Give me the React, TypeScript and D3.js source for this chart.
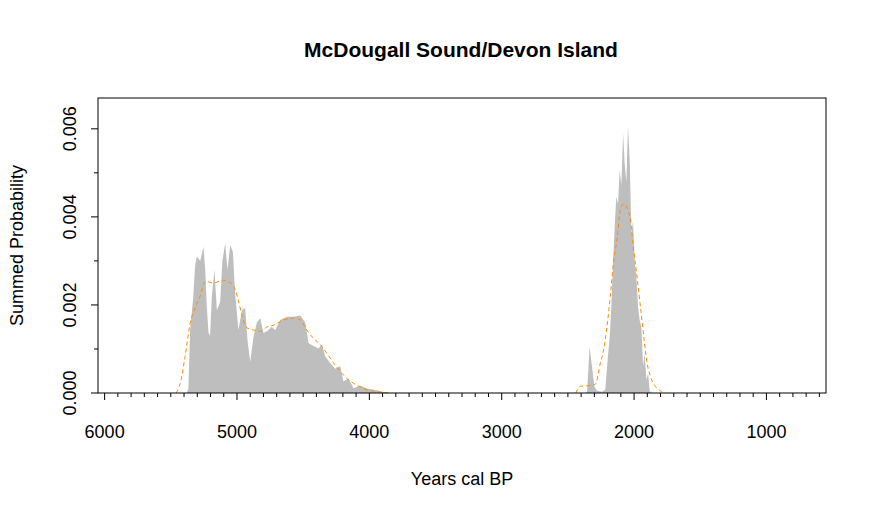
import * as d3 from 'd3';

// summed probability (grey)
const spdYears = [5380, 5367, 5354, 5330, 5316, 5303, 5278, 5253, 5240, 5228, 5215, 5203, 5190, 5170, 5152, 5127, 5110, 5089, 5072, 5051, 5031, 5014, 4989, 4963, 4938, 4920, 4900, 4875, 4850, 4825, 4800, 4774, 4737, 4711, 4673, 4623, 4573, 4522, 4484, 4459, 4422, 4384, 4358, 4333, 4296, 4258, 4220, 4195, 4157, 4119, 4069, 4018, 3943, 3895, 3870,
  2370, 2355, 2336, 2318, 2300, 2280, 2242, 2217, 2200, 2184, 2172, 2159, 2146, 2134, 2121, 2109, 2096, 2083, 2071, 2058, 2046, 2033, 2020, 2008, 1995, 1983, 1970, 1958, 1945, 1932, 1920, 1907, 1894, 1882, 1870];
const spdValues = [0, 0.0001, 0.00143, 0.0022, 0.0029, 0.0031, 0.003, 0.00332, 0.0028, 0.00196, 0.00136, 0.0013, 0.00219, 0.0028, 0.00188, 0.00207, 0.003, 0.0034, 0.0028, 0.00336, 0.0032, 0.00227, 0.00143, 0.00188, 0.00193, 0.00118, 0.00071, 0.00128, 0.0016, 0.0017, 0.00136, 0.0014, 0.0015, 0.00143, 0.00166, 0.00173, 0.00173, 0.00176, 0.0016, 0.00113, 0.00107, 0.00101, 0.0011, 0.00083, 0.00068, 0.00055, 0.00061, 0.00026, 0.00033, 0.00011, 0.00017, 0.0001, 0.00006, 0.00002, 0,
  0, 0.00003, 0.00105, 0.0006, 0.00015, 0.00005, 0.00003, 0.00008, 0.00075, 0.00128, 0.00196, 0.003, 0.0038, 0.00446, 0.0043, 0.00507, 0.0047, 0.0059, 0.0052, 0.0048, 0.00605, 0.0053, 0.00363, 0.0039, 0.003, 0.00264, 0.00196, 0.00166, 0.0015, 0.0006, 0.0009, 0.0003, 0.00045, 0.00005, 0];

// smoothed curve (orange dashed)
const fitYears = [5460, 5429, 5392, 5354, 5316, 5278, 5240, 5177, 5102, 5051, 5014, 4989, 4963, 4925, 4875, 4825, 4774, 4724, 4648, 4573, 4522, 4472, 4422, 4371, 4321, 4270, 4220, 4170, 4119, 4044, 3943, 3850,
  2440, 2406, 2330, 2292, 2255, 2230, 2205, 2180, 2154, 2129, 2104, 2078, 2053, 2028, 2003, 1978, 1952, 1927, 1902, 1877, 1839, 1801, 1780];
const fitValues = [0, 0.00022, 0.00083, 0.00158, 0.00193, 0.0022, 0.00253, 0.0025, 0.00256, 0.0025, 0.00236, 0.0021, 0.00177, 0.00148, 0.00143, 0.0014, 0.0015, 0.00154, 0.00166, 0.0017, 0.00166, 0.00143, 0.00124, 0.0011, 0.0009, 0.00068, 0.00049, 0.00033, 0.00022, 0.0001, 0.00003, 0,
  0, 0.00015, 0.00017, 0.0002, 0.00068, 0.00098, 0.0015, 0.00219, 0.003, 0.00348, 0.00416, 0.0043, 0.0042, 0.00393, 0.00325, 0.00264, 0.00196, 0.00128, 0.00068, 0.00038, 0.00015, 0.00005, 0];

const xMajor = [6000, 5000, 4000, 3000, 2000, 1000];
const yMajor = [0, 0.002, 0.004, 0.006];

export default function App() {
  const width = 877, height = 516;
  const m = { left: 98, right: 826, top: 98, bottom: 393 };
  const x = d3.scaleLinear().domain([6050, 550]).range([m.left, m.right]);
  const y = d3.scaleLinear().domain([0, 0.0067]).range([m.bottom, m.top]);

  const spd = spdYears.map((yr, i) => [yr, spdValues[i]] as [number, number]);
  const fit = fitYears.map((yr, i) => [yr, fitValues[i]] as [number, number]);
  const area = d3.area<[number, number]>().x(d => x(d[0])).y0(y(0)).y1(d => y(d[1]));
  const line = d3.line<[number, number]>().x(d => x(d[0])).y(d => y(d[1])).curve(d3.curveMonotoneX);

  const minorX = d3.range(6000, 549, -100);
  const minorY = d3.range(0, 0.0066, 0.001);
  const font = 'Arial, "Liberation Sans", sans-serif';

  return (
    <svg width={width} height={height} style={{ display: 'block', margin: -8, fontFamily: font }}>
      <rect width={width} height={height} fill="#fff" />
      <text x={461} y={57} textAnchor="middle" fontSize={21} fontWeight="bold">McDougall Sound/Devon Island</text>
      <path d={area(spd.slice(0, 55)) || ''} fill="#bebebe" />
      <path d={area(spd.slice(55)) || ''} fill="#bebebe" />
      <path d={line(fit.slice(0, 32)) || ''} fill="none" stroke="#ff8c00" strokeWidth={1} strokeDasharray="4,3" />
      <path d={line(fit.slice(32)) || ''} fill="none" stroke="#ff8c00" strokeWidth={1} strokeDasharray="4,3" />
      <rect x={m.left} y={m.top} width={m.right - m.left} height={m.bottom - m.top} fill="none" stroke="#000" />
      {minorX.map(v => (
        <line key={v} x1={x(v)} x2={x(v)} y1={m.bottom} y2={m.bottom + (v % 1000 === 0 ? 7 : 4)} stroke="#000" />
      ))}
      {xMajor.map(v => (
        <text key={v} x={x(v)} y={m.bottom + 45} textAnchor="middle" fontSize={18}>{v}</text>
      ))}
      {minorY.map((v, i) => (
        <line key={i} x1={m.left} x2={m.left - (i % 2 === 0 ? 7 : 4)} y1={y(v)} y2={y(v)} stroke="#000" />
      ))}
      {yMajor.map(v => (
        <text key={v} transform={`translate(${m.left - 22},${y(v)}) rotate(-90)`} textAnchor="middle" fontSize={18}>{v.toFixed(3)}</text>
      ))}
      <text x={462} y={485} textAnchor="middle" fontSize={18}>Years cal BP</text>
      <text transform={`translate(23,${(m.top + m.bottom) / 2}) rotate(-90)`} textAnchor="middle" fontSize={18}>Summed Probability</text>
    </svg>
  );
}
